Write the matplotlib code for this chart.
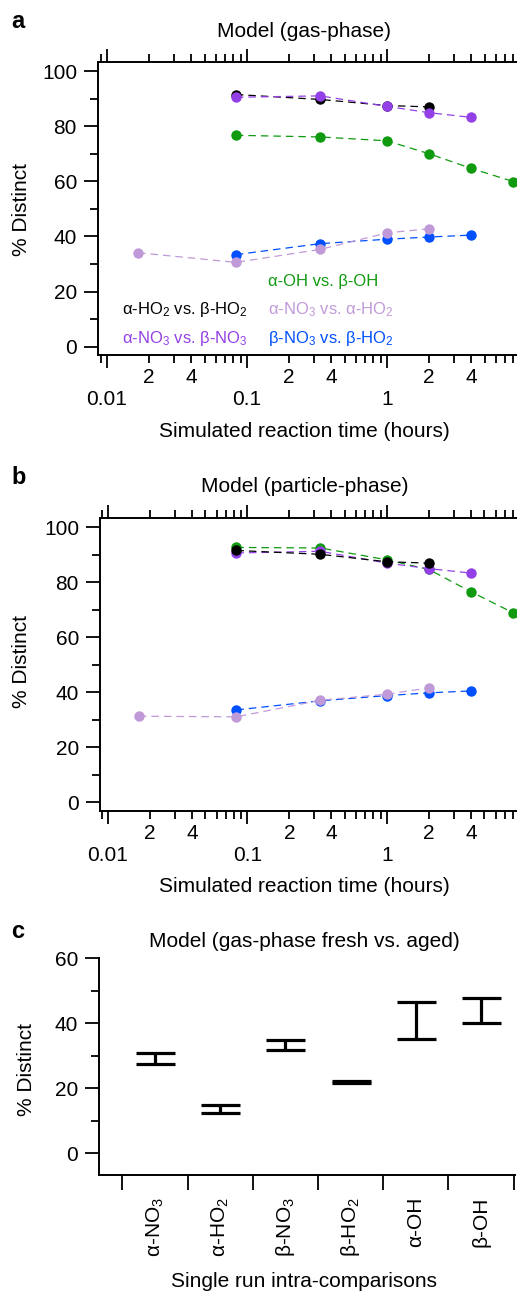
import matplotlib
matplotlib.use("Agg")
import matplotlib.pyplot as plt
import numpy as np
from matplotlib.ticker import LogLocator, FuncFormatter, FixedLocator

plt.rcParams['font.family'] = ['Liberation Sans', 'DejaVu Sans']
plt.rcParams['mathtext.fontset'] = 'custom'
plt.rcParams['mathtext.rm'] = 'Liberation Sans'
plt.rcParams['mathtext.it'] = 'Liberation Sans'
plt.rcParams['mathtext.bf'] = 'Liberation Sans:bold'

# ---------------- data ----------------
# simulated reaction time (hours)
t_all = [1/60, 5/60, 20/60, 1, 2, 4, 8]
t_main = [5/60, 20/60, 1, 2, 4]

# Panel a (gas-phase)
a_ho2 = [91.5, 89.7, 87.5, 87.0]              # alpha-HO2 vs beta-HO2 (5 min .. 2 h)
a_no3 = [90.5, 91.0, 87.2, 84.9, 83.2]        # alpha-NO3 vs beta-NO3 (5 min .. 4 h)
a_oh = [76.7, 76.1, 74.7, 70.0, 64.7, 59.9]   # alpha-OH vs beta-OH (5 min .. 8 h)
a_ano3_aho2 = [34.1, 30.6, 35.3, 41.3, 42.8]  # alpha-NO3 vs alpha-HO2 (1 min .. 2 h)
a_bno3_bho2 = [33.4, 37.4, 39.0, 39.8, 40.5]  # beta-NO3 vs beta-HO2 (5 min .. 4 h)

# Panel b (particle-phase)
b_ho2 = [91.5, 90.1, 87.4, 86.9]
b_no3 = [90.6, 91.2, 86.9, 84.9, 83.3]
b_oh = [92.6, 92.4, 88.1, 84.6, 76.5, 68.9]
b_ano3_aho2 = [31.3, 31.1, 37.1, 39.3, 41.6]
b_bno3_bho2 = [33.6, 36.9, 38.8, 39.8, 40.5]

# Panel c (fresh vs aged ranges)
c_labels = [r'α-NO$_3$', r'α-HO$_2$', r'β-NO$_3$', r'β-HO$_2$', 'α-OH', 'β-OH']
c_low = [27.4, 12.3, 31.8, 21.6, 35.2, 40.0]
c_high = [30.8, 14.9, 34.9, 22.3, 46.7, 47.9]

series_names = {
    'ho2': r'α-HO$_2$ vs. β-HO$_2$',
    'no3': r'α-NO$_3$ vs. β-NO$_3$',
    'oh': 'α-OH vs. β-OH',
    'an_ah': r'α-NO$_3$ vs. α-HO$_2$',
    'bn_bh': r'β-NO$_3$ vs. β-HO$_2$',
}
colors = {
    'ho2': '#000000',
    'no3': '#9340e6',
    'oh': '#0f9a0f',
    'an_ah': '#c09ad8',
    'bn_bh': '#0050ff',
}

W, H = 517, 1291
fig = plt.figure(figsize=(W/100, H/100), dpi=100)

def px2pt(p):
    return p * 72 / 100

FS = 15

def ax_rect(l, r, top, bot):
    return [l/W, 1 - bot/H, (r - l)/W, (bot - top)/H]

def style_log_axes(ax, xlim):
    ax.set_xscale('log')
    ax.set_xlim(*xlim)
    ax.set_ylim(-3.0, 103.4)
    ax.spines['right'].set_visible(False)
    for s in ['left', 'top', 'bottom']:
        ax.spines[s].set_linewidth(1.4)
    ax.set_yticks([0, 20, 40, 60, 80, 100])
    ax.yaxis.set_minor_locator(FixedLocator([10, 30, 50, 70, 90]))
    ax.xaxis.set_major_locator(FixedLocator([0.01, 0.1, 1]))
    ax.xaxis.set_major_formatter(FuncFormatter(
        lambda v, p: {0.01: '0.01', 0.1: '0.1', 1.0: '1'}.get(round(v, 3), '')))
    ax.xaxis.set_minor_locator(LogLocator(base=10, subs=np.arange(2, 10)))

    def minor_fmt(v, p):
        m = round(v / 10 ** np.floor(np.log10(v) + 1e-9))
        return str(m) if m in (2, 4) else ''
    ax.xaxis.set_minor_formatter(FuncFormatter(minor_fmt))
    ax.tick_params(axis='y', which='major', direction='out', length=px2pt(14), width=1.3,
                   labelsize=FS, pad=px2pt(7), right=False)
    ax.tick_params(axis='y', which='minor', direction='out', length=px2pt(8), width=1.3, right=False)
    ax.tick_params(axis='x', which='major', direction='out', length=px2pt(13), width=1.3,
                   labelsize=FS, pad=px2pt(22), top=True, labeltop=False)
    ax.tick_params(axis='x', which='minor', direction='out', length=px2pt(8), width=1.3,
                   labelsize=FS, pad=px2pt(5), top=True, labeltop=False)

def plot_series(ax, x, y, key, z):
    ax.plot(x, y, linestyle=(0, (6, 4)), lw=0.9, color=colors[key], marker='o',
            markersize=7.5, markeredgewidth=0, zorder=z, clip_on=False)

# ---------- Panel a ----------
axa = fig.add_axes(ax_rect(98, 517, 61.7, 355))
style_log_axes(axa, (0.00863, 8.49))
plot_series(axa, t_main, a_bno3_bho2, 'bn_bh', 3)
plot_series(axa, t_all[:5], a_ano3_aho2, 'an_ah', 4)
plot_series(axa, t_all[1:], a_oh, 'oh', 5)
plot_series(axa, t_main[:4], a_ho2, 'ho2', 6)
plot_series(axa, t_main, a_no3, 'no3', 7)

legend_fs = 12
fig.text(268/W, 1 - 281.7/H, series_names['oh'], color=colors['oh'], fontsize=legend_fs, va='center', ha='left')
fig.text(121.7/W, 1 - 310/H, series_names['ho2'], color=colors['ho2'], fontsize=legend_fs, va='center', ha='left')
fig.text(268/W, 1 - 310/H, series_names['an_ah'], color=colors['an_ah'], fontsize=legend_fs, va='center', ha='left')
fig.text(121.7/W, 1 - 338/H, series_names['no3'], color=colors['no3'], fontsize=legend_fs, va='center', ha='left')
fig.text(268/W, 1 - 338/H, series_names['bn_bh'], color=colors['bn_bh'], fontsize=legend_fs, va='center', ha='left')

fig.text(11/W, 1 - 21/H, 'a', fontsize=17, fontweight='bold', va='center', ha='left')
fig.text(304/W, 1 - 31.7/H, 'Model (gas-phase)', fontsize=FS, va='center', ha='center')
fig.text(304/W, 1 - 431.7/H, 'Simulated reaction time (hours)', fontsize=FS, va='center', ha='center')
fig.text(22/W, 1 - 210/H, '% Distinct', fontsize=FS, va='center', ha='center', rotation=90)

# ---------- Panel b ----------
axb = fig.add_axes(ax_rect(100, 517, 517.7, 810.7))
style_log_axes(axb, (0.00877, 8.55))
plot_series(axb, t_main, b_bno3_bho2, 'bn_bh', 3)
plot_series(axb, t_all[:5], b_ano3_aho2, 'an_ah', 4)
plot_series(axb, t_all[1:], b_oh, 'oh', 5)
plot_series(axb, t_main, b_no3, 'no3', 6)
plot_series(axb, t_main[:4], b_ho2, 'ho2', 7)

fig.text(11/W, 1 - 478/H, 'b', fontsize=17, fontweight='bold', va='center', ha='left')
fig.text(305/W, 1 - 486/H, 'Model (particle-phase)', fontsize=FS, va='center', ha='center')
fig.text(304/W, 1 - 886.7/H, 'Simulated reaction time (hours)', fontsize=FS, va='center', ha='center')
fig.text(22/W, 1 - 662/H, '% Distinct', fontsize=FS, va='center', ha='center', rotation=90)

# ---------- Panel c ----------
axc = fig.add_axes(ax_rect(99, 515, 958.3, 1175))
xc = np.arange(len(c_labels))
mid = [(lo + hi) / 2 for lo, hi in zip(c_low, c_high)]
err = [(hi - lo) / 2 for lo, hi in zip(c_low, c_high)]
axc.errorbar(xc, mid, yerr=err, fmt='none', ecolor='black', elinewidth=2.3,
             capsize=px2pt(19.5), capthick=2.3)
axc.set_xlim(-0.857, 5.52)
axc.set_ylim(-6.7, 60)
axc.spines['right'].set_visible(False)
axc.spines['top'].set_visible(False)
for s in ['left', 'bottom']:
    axc.spines[s].set_linewidth(1.4)
axc.set_yticks([0, 20, 40, 60])
axc.yaxis.set_minor_locator(FixedLocator([10, 30, 50]))
axc.tick_params(axis='y', which='major', direction='out', length=px2pt(14), width=1.3,
                labelsize=FS, pad=px2pt(7))
axc.tick_params(axis='y', which='minor', direction='out', length=px2pt(8), width=1.3)
axc.set_xticks(xc)
axc.set_xticklabels(c_labels, rotation=90, fontsize=FS)
axc.tick_params(axis='x', which='major', length=0, pad=px2pt(22))
axc.xaxis.set_minor_locator(FixedLocator(np.arange(-0.5, 6.0, 1.0)))
axc.tick_params(axis='x', which='minor', direction='out', length=px2pt(15), width=1.3)

fig.text(11/W, 1 - 932/H, 'c', fontsize=17, fontweight='bold', va='center', ha='left')
fig.text(304/W, 1 - 941.7/H, 'Model (gas-phase fresh vs. aged)', fontsize=FS, va='center', ha='center')
fig.text(304/W, 1 - 1281.7/H, 'Single run intra-comparisons', fontsize=FS, va='center', ha='center')
fig.text(27/W, 1 - 1070/H, '% Distinct', fontsize=FS, va='center', ha='center', rotation=90)

fig.savefig('out.png', dpi=100)
